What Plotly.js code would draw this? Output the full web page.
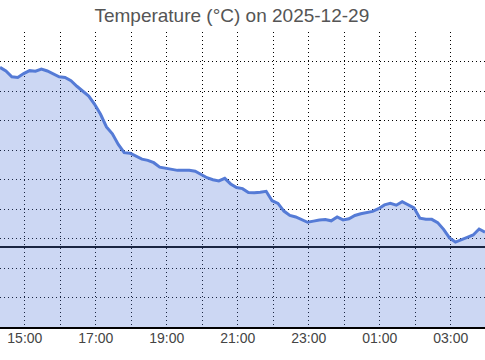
<!DOCTYPE html>
<html>
<head>
<meta charset="utf-8">
<script src="https://cdn.plot.ly/plotly-3.0.1.min.js"></script>
<style>html,body{margin:0;padding:0;background:#fff;}#chart{width:485px;height:360px;}</style>
</head>
<body>
<div id="chart"></div>
<script>
// Readings every 10 minutes, starting 2025-12-29 14:18
const startTime = '2025-12-29T14:18:00';
const stepMinutes = 10;
const temperatures = [
  6.10, 5.98, 5.78, 5.76, 5.89, 5.99, 5.97, 6.04, 5.98, 5.89,
  5.78, 5.76, 5.65, 5.46, 5.29, 5.13, 4.85, 4.51, 4.08, 3.85,
  3.49, 3.21, 3.19, 3.09, 2.99, 2.95, 2.87, 2.72, 2.68, 2.63,
  2.61, 2.61, 2.61, 2.58, 2.46, 2.36, 2.29, 2.25, 2.34, 2.15,
  2.03, 1.99, 1.86, 1.85, 1.87, 1.90, 1.58, 1.49, 1.23, 1.08,
  1.03, 0.95, 0.85, 0.89, 0.93, 0.94, 0.90, 1.03, 0.93, 0.97,
  1.08, 1.14, 1.17, 1.22, 1.31, 1.44, 1.49, 1.43, 1.55, 1.45,
  1.34, 0.99, 0.95, 0.95, 0.84, 0.61, 0.32, 0.18, 0.27, 0.34,
  0.42, 0.62, 0.51
];
const titleText = 'Temperature (°C) on 2025-12-29';
const yRange = [-2.7, 7.3];

function pad(n){ return String(n).padStart(2,'0'); }
const t0 = new Date(startTime + 'Z').getTime();
const times = temperatures.map((_, i) => {
  const d = new Date(t0 + i * stepMinutes * 60000);
  return d.getUTCFullYear() + '-' + pad(d.getUTCMonth()+1) + '-' + pad(d.getUTCDate()) + ' ' +
         pad(d.getUTCHours()) + ':' + pad(d.getUTCMinutes());
});
const baseline = times.map(() => yRange[0]);

const gridStyle = {showgrid: true, gridcolor: '#000', gridwidth: 1, griddash: '1px,3px'};

const traces = [
  {x: times, y: baseline, type: 'scatter', mode: 'lines', line: {width: 0}, hoverinfo: 'skip', showlegend: false},
  {x: times, y: temperatures, type: 'scatter', mode: 'lines', fill: 'tonexty',
   fillcolor: 'rgba(85,123,214,0.3)', line: {color: '#557bd6', width: 3}, showlegend: false}
];

const layout = {
  width: 485, height: 360,
  margin: {l: 0, r: 0, t: 32, b: 33, pad: 0},
  paper_bgcolor: '#fff', plot_bgcolor: '#fff',
  font: {family: 'Liberation Sans, Arial, sans-serif', color: '#444'},
  title: {text: titleText, x: 0.478, xanchor: 'center', xref: 'paper', y: 0.958, yanchor: 'middle', yref: 'container',
          font: {size: 19, color: '#555', family: 'Liberation Sans, Arial, sans-serif'}},
  xaxis: Object.assign({
    type: 'date', range: [times[0], times[times.length-1]],
    tick0: '2025-12-29 15:00', dtick: 7200000, tickformat: '%H:%M',
    tickfont: {size: 14, color: '#444'}, ticks: '', ticklabelstandoff: -3,
    showline: true, linecolor: '#000', linewidth: 2, zeroline: false,
    minor: Object.assign({dtick: 3600000, tick0: '2025-12-29 15:00'}, gridStyle)
  }, gridStyle),
  yaxis: Object.assign({
    range: yRange, tick0: 0.3, dtick: 1, showticklabels: false, ticks: '',
    zeroline: true, zerolinecolor: '#000', zerolinewidth: 2, showline: false
  }, gridStyle)
};

Plotly.newPlot('chart', traces, layout, {displayModeBar: false, staticPlot: true});
</script>
</body>
</html>
